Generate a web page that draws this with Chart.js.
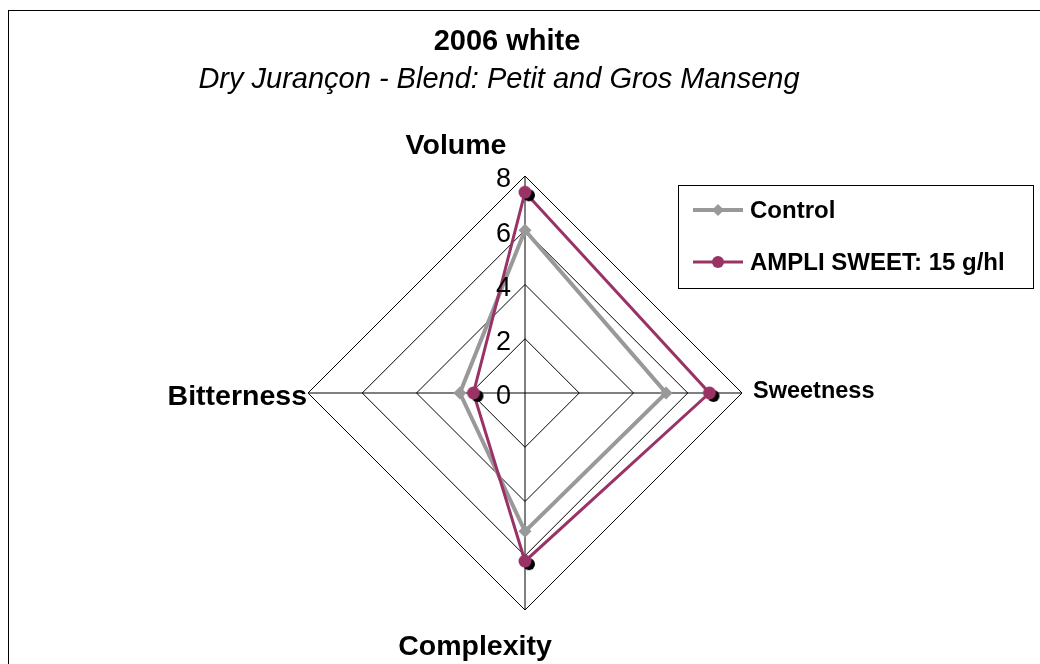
<!DOCTYPE html>
<html>
<head>
<meta charset="utf-8">
<script src="https://cdn.jsdelivr.net/npm/chart.js@4"></script>
<style>
  html, body { margin:0; padding:0; background:#fff; }
  canvas { display:block; }
</style>
</head>
<body>
<canvas id="chart" width="1040" height="664"></canvas>
<script>
'use strict';
// ── Data ───────────────────────────────────────────────────────────────────
const axisNames   = ['Volume', 'Sweetness', 'Complexity', 'Bitterness'];
const controlVals = [6.0, 5.2, 5.1, 2.4];
const ampliVals   = [7.4, 6.8, 6.2, 1.9];
const seriesNames = ['Control', 'AMPLI SWEET: 15 g/hl'];
const tickLabels  = ['0', '2', '4', '6', '8'];

const titleText    = '2006 white';
const subtitleText = 'Dry Jurançon - Blend: Petit and Gros Manseng';

const FONT  = '"Liberation Sans", Arial, sans-serif';
const GRAY  = '#999999';
const PLUM  = '#993366';

// purple marker with the offset black dot behind it
function shadowDot(color) {
  const c = document.createElement('canvas');
  c.width = 26; c.height = 26;
  const g = c.getContext('2d');
  g.fillStyle = '#000';
  g.beginPath(); g.arc(17, 16, 6, 0, Math.PI * 2); g.fill();
  g.fillStyle = color;
  g.beginPath(); g.arc(13, 13, 6.5, 0, Math.PI * 2); g.fill();
  return c;
}

function text(ctx, str, x, y, font, align) {
  ctx.font = font;
  ctx.textAlign = align || 'center';
  ctx.textBaseline = 'middle';
  ctx.fillStyle = '#000';
  ctx.fillText(str, x, y);
}

// ── Frame, titles, axis names, ticks, legend ───────────────────────────────
const decor = {
  id: 'decor',
  beforeDraw(chart) {
    const ctx = chart.ctx;
    ctx.save();
    ctx.fillStyle = '#fff';
    ctx.fillRect(0, 0, chart.width, chart.height);
    ctx.strokeStyle = '#000';
    ctx.lineWidth = 1;
    ctx.strokeRect(8.5, 10.5, chart.width + 10, chart.height + 10);
    ctx.restore();
  },
  afterDraw(chart) {
    const ctx = chart.ctx;
    const r = chart.scales.r;
    ctx.save();

    text(ctx, titleText, 507, 42, `bold 29px ${FONT}`);
    text(ctx, subtitleText, 499, 80, `italic 29px ${FONT}`);

    // axis names
    const far = r.drawingArea;
    const top = r.getPointPosition(0, far), right = r.getPointPosition(1, far);
    const bot = r.getPointPosition(2, far), left = r.getPointPosition(3, far);
    text(ctx, axisNames[0], top.x - 69, top.y - 30, `bold 28.5px ${FONT}`);
    text(ctx, axisNames[1], right.x + 11, right.y - 1, `bold 23.5px ${FONT}`, 'left');
    text(ctx, axisNames[2], bot.x - 50, bot.y + 37, `bold 28.5px ${FONT}`);
    text(ctx, axisNames[3], left.x - 1, left.y + 4, `bold 28.5px ${FONT}`, 'right');

    // tick labels, left of the vertical axis
    r.ticks.forEach((t, i) => {
      const y = r.yCenter - r.getDistanceFromCenterForValue(t.value) + 4;
      text(ctx, tickLabels[i], r.xCenter - 14, y, `27px ${FONT}`, 'right');
    });

    // legend box
    const lx = 678, ly = 185, lw = 355, lh = 103;
    ctx.strokeStyle = '#000';
    ctx.lineWidth = 1;
    ctx.strokeRect(lx + 0.5, ly + 0.5, lw, lh);
    const rows = [210, 262];
    chart.data.datasets.forEach((ds, i) => {
      const y = rows[i];
      ctx.strokeStyle = ds.borderColor;
      ctx.lineWidth = ds.borderWidth;
      ctx.beginPath(); ctx.moveTo(693, y); ctx.lineTo(743, y); ctx.stroke();
      ctx.fillStyle = ds.borderColor;
      ctx.beginPath();
      if (i === 0) {
        ctx.moveTo(718, y - 6); ctx.lineTo(724, y); ctx.lineTo(718, y + 6); ctx.lineTo(712, y);
      } else {
        ctx.arc(718, y, 6, 0, Math.PI * 2);
      }
      ctx.fill();
      text(ctx, ds.label, 750, y + 1, `bold 24px ${FONT}`, 'left');
    });
    ctx.restore();
  }
};

// ── Chart ──────────────────────────────────────────────────────────────────
new Chart(document.getElementById('chart'), {
  type: 'radar',
  data: {
    labels: axisNames,
    datasets: [
      { label: seriesNames[0], data: controlVals, order: 1,
        borderColor: GRAY, backgroundColor: 'transparent', borderWidth: 4, fill: false,
        pointStyle: 'rectRot', pointRadius: 6.5, pointBorderWidth: 0,
        pointBackgroundColor: GRAY, pointBorderColor: GRAY },
      { label: seriesNames[1], data: ampliVals, order: 0,
        borderColor: PLUM, backgroundColor: 'transparent', borderWidth: 3, fill: false,
        pointStyle: shadowDot(PLUM), pointRadius: 6.5 },
    ],
  },
  options: {
    responsive: false, animation: false,
    layout: { padding: { left: 308, right: 298, top: 176, bottom: 54 } },
    plugins: { legend: { display: false }, tooltip: { enabled: false } },
    elements: { line: { tension: 0 } },
    scales: {
      r: {
        min: 0, max: 8,
        ticks: { stepSize: 2, display: false },
        grid: { color: '#000', lineWidth: 1 },
        angleLines: { color: '#000', lineWidth: 1 },
        pointLabels: { display: false },
      },
    },
  },
  plugins: [decor],
});
</script>
</body>
</html>
